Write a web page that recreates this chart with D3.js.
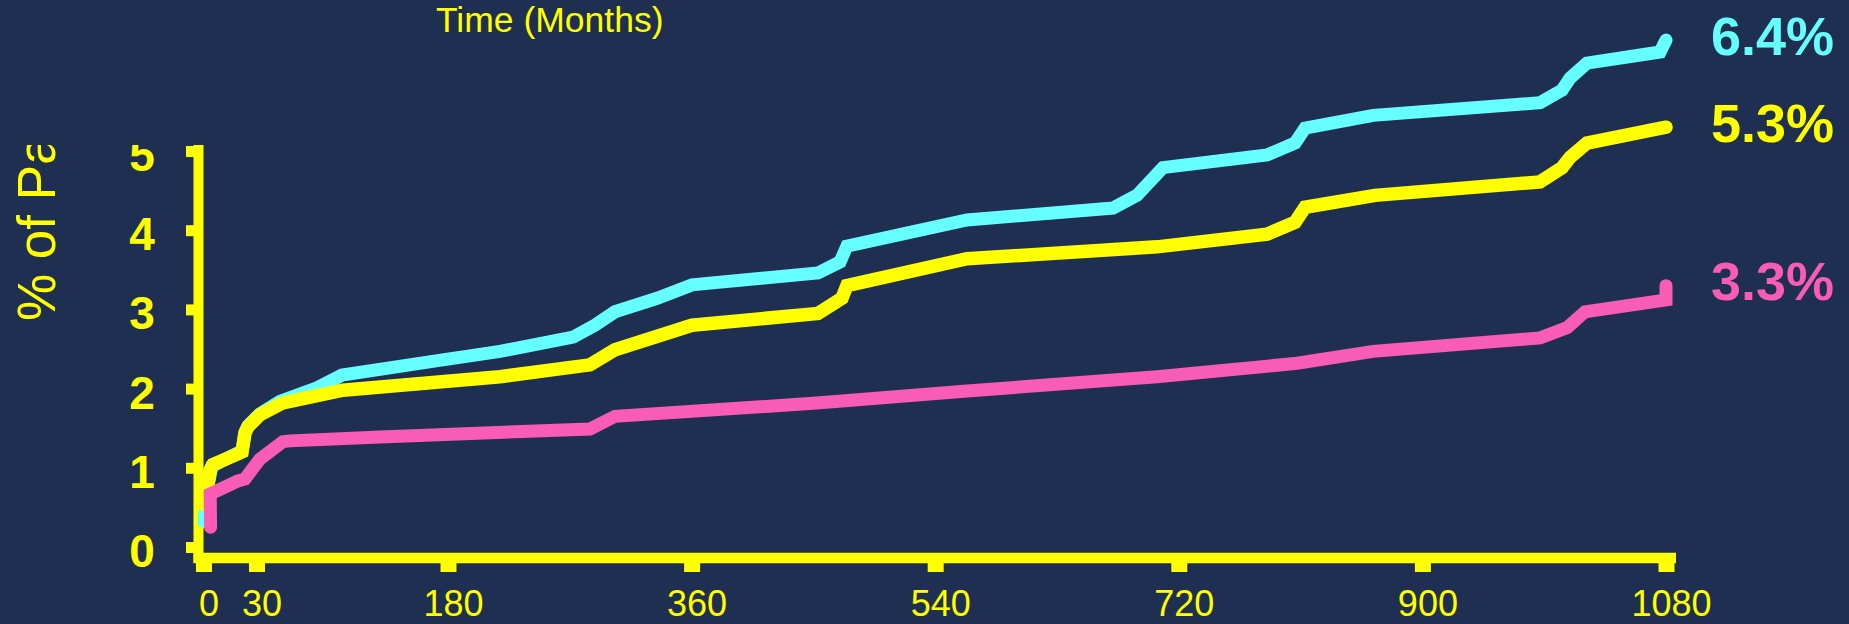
<!DOCTYPE html>
<html>
<head>
<meta charset="utf-8">
<script src="https://cdn.jsdelivr.net/npm/d3@7"></script>
<style>
  html, body { margin: 0; padding: 0; background: #1f2f52; }
  svg { display: block; }
  text { font-family: "Liberation Sans", Arial, sans-serif; }
</style>
</head>
<body>
<svg id="chart" width="1849" height="624"></svg>
<script>
// Cumulative event curves: month on x, percent of patients on y
const upperMonths = [0.3, 2.0, 4.8, 17.8, 21.8, 23.5, 25.2, 32.7, 48.4, 77.4, 97.0, 170.6, 218.4, 272.4, 288.6, 303.4, 334.5, 360.3, 453.4, 469.7, 474.8, 563.5, 671.4, 689.1, 708.3, 785.2, 805.9, 813.3, 863.6, 987.0, 1003.2, 1009.1, 1021.6, 1075.6, 1080];
const upperPct    = [0.32, 0.72, 1.02, 1.17, 1.21, 1.45, 1.53, 1.68, 1.84, 2.01, 2.17, 2.35, 2.47, 2.65, 2.80, 2.97, 3.14, 3.31, 3.46, 3.60, 3.80, 4.13, 4.28, 4.44, 4.79, 4.95, 5.10, 5.29, 5.45, 5.61, 5.77, 5.92, 6.11, 6.25, 6.40];

const middleMonths = [0.85, 3.7, 5.4, 17.8, 21.8, 23.5, 25.2, 32.7, 50.7, 97.7, 218.4, 284.9, 303.4, 360.3, 453.4, 471.1, 474.8, 563.5, 703.9, 785.2, 805.9, 813.3, 865.0, 986.9, 1003.2, 1009.1, 1021.6, 1080];
const middlePct    = [0.53, 0.97, 1.04, 1.16, 1.20, 1.44, 1.52, 1.67, 1.82, 1.98, 2.15, 2.30, 2.49, 2.80, 2.95, 3.14, 3.30, 3.64, 3.79, 3.95, 4.10, 4.29, 4.44, 4.61, 4.79, 4.92, 5.10, 5.30];

const lowerMonths = [4.0, 3.8, 7.6, 18.9, 23.5, 27.5, 32.7, 50.7, 56.2, 126.6, 284.9, 303.4, 454.9, 563.5, 703.9, 807.4, 863.6, 987.0, 1007.0, 1020.1, 1080, 1080];
const lowerPct    = [0.25, 0.67, 0.71, 0.83, 0.86, 0.98, 1.11, 1.33, 1.34, 1.39, 1.49, 1.65, 1.82, 1.97, 2.15, 2.32, 2.47, 2.64, 2.77, 2.97, 3.12, 3.30];

const xTicks = [0, 30, 180, 360, 540, 720, 900, 1080];
const yTicks = [0, 1, 2, 3, 4, 5];
const xTitle = "Time (Months)";
const yTitle = "% of Patients";

const seriesColors = { upper: "#66ffff", middle: "#ffff00", lower: "#f95cb5" };
const axisColor = "#ffff00";

const svg = d3.select("#chart");
const W = 1849, H = 624;

svg.append("rect").attr("width", W).attr("height", H).attr("fill", "#1f2f52");

// Month axis: the first month gets extra room so 0 and 30 stay readable
const x = d3.scaleLinear().domain([0, 30, 180, 1080]).range([203.5, 256.5, 448, 1666]);
const y = d3.scaleLinear().domain([0, 5]).range([547, 151]);

const axisY = 558;   // baseline of the month axis
const axisX = 198.5; // position of the percent axis

// Left panel clip: labels are cut off above the top tick
svg.append("defs").append("clipPath").attr("id", "leftClip")
  .append("rect").attr("x", 0).attr("y", y(5) - 6).attr("width", axisX).attr("height", H);

// X axis
const gx = svg.append("g").attr("transform", `translate(0,${axisY})`)
  .call(d3.axisBottom(x).tickValues(xTicks).tickFormat(d3.format("d")).tickSize(14).tickSizeOuter(0));
gx.select(".domain")
  .attr("d", `M${axisX - 5},0H${x(1080) + 10}`)
  .attr("stroke", axisColor).attr("stroke-width", 10.5);
gx.selectAll(".tick line").attr("stroke", axisColor).attr("stroke-width", 16);
gx.selectAll(".tick text")
  .attr("fill", axisColor).attr("font-size", 36).attr("font-family", "Liberation Sans, Arial, sans-serif")
  .attr("y", 58).attr("dy", 0).attr("x", 5);

// Y axis
const gy = svg.append("g").attr("transform", `translate(${axisX},0)`)
  .call(d3.axisLeft(y).tickValues(yTicks).tickSize(12.5).tickSizeOuter(0));
gy.select(".domain")
  .attr("d", `M0,${y(5) - 6}V${axisY + 5}`)
  .attr("stroke", axisColor).attr("stroke-width", 10);
gy.selectAll(".tick line").attr("stroke", axisColor).attr("stroke-width", 11);
gy.selectAll(".tick text").remove();

// Percent tick labels and axis title, clipped at the top
const left = svg.append("g").attr("clip-path", "url(#leftClip)");
left.selectAll("text.ylab").data(yTicks).join("text")
  .attr("class", "ylab")
  .attr("x", 142).attr("y", d => y(d) + 20)
  .attr("text-anchor", "middle")
  .attr("fill", axisColor).attr("font-size", 46).attr("font-weight", "bold")
  .text(d => d);
left.append("text")
  .attr("transform", "translate(55,321) rotate(-90)")
  .attr("fill", axisColor).attr("font-size", 53)
  .text(yTitle);

// Title above the plot
svg.append("text").attr("x", 436).attr("y", 32)
  .attr("fill", axisColor).attr("font-size", 35.5)
  .text(xTitle);

// Curves
const series = [
  { key: "upper", months: upperMonths, pct: upperPct, width: 13 },
  { key: "middle", months: middleMonths, pct: middlePct, width: 13.5 },
  { key: "lower", months: lowerMonths, pct: lowerPct, width: 13 }
];

const line = d3.line().x(d => x(d[0])).y(d => y(d[1]));

series.forEach(s => {
  const pts = s.months.map((m, i) => [m, s.pct[i]]);
  svg.append("path")
    .attr("d", line(pts))
    .attr("fill", "none")
    .attr("stroke", seriesColors[s.key])
    .attr("stroke-width", s.width)
    .attr("stroke-linecap", "round")
    .attr("stroke-linejoin", "miter")
    .attr("stroke-miterlimit", 2);
});

// End-point values at the right
svg.selectAll("text.endlab").data(series).join("text")
  .attr("class", "endlab")
  .attr("x", 1711)
  .attr("y", s => y(s.pct[s.pct.length - 1]) + 14.5)
  .attr("fill", s => seriesColors[s.key])
  .attr("font-size", 54).attr("font-weight", "bold")
  .text(s => s.pct[s.pct.length - 1].toFixed(1) + "%");
</script>
</body>
</html>
